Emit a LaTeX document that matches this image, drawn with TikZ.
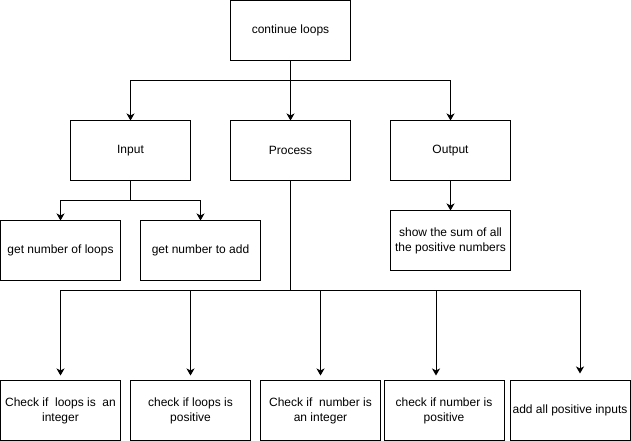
\documentclass[tikz,border=0pt]{standalone}
\usepackage{fontspec}
\setmainfont{Liberation Sans}
\usetikzlibrary{arrows.meta}
\begin{document}
\begin{tikzpicture}[x=1pt,y=-1pt,
  box/.style={draw,line width=1pt,minimum width=120pt,minimum height=60pt,
    inner sep=2pt,outer sep=0pt,align=center,anchor=north west,
    font=\fontsize{12}{15}\selectfont},
  link/.style={line width=1pt},
  arr/.style={line width=1pt,-{Stealth[length=7pt,width=8pt,inset=2pt]}}]
\useasboundingbox (0,0) rectangle (631,441);

% top level
\node[box] (top) at (230.5,0.5) {continue loops};

% second level
\node[box] (input)   at (70.5,120.5)  {Input};
\node[box] (process) at (230.5,120.5) {Process};
\node[box] (output)  at (390.5,120.5) {Output};

% input children
\node[box] (gl) at (0.5,220.5)   {get number of loops};
\node[box] (ga) at (140.5,220.5) {get number to add};

% output child
\node[box] (show) at (390.5,210.5) {show the sum of all\\the positive numbers};

% process children
\node[box] (b1) at (0.5,380.5)   {Check if\ \ loops is\ \ an\\integer};
\node[box] (b2) at (130.5,380.5) {check if loops is\\positive};
\node[box] (b3) at (260.5,380.5) {Check if\ \ number is\\an integer};
\node[box] (b4) at (384,380.5)   {check if number is\\positive};
\node[box] (b5) at (510,380.5)   {add all positive inputs};

% connectors from the top box
\draw[link] (top.south) -- ++(0,20) coordinate (tb);
\draw[arr] (tb) -| (input.north);
\draw[arr] (tb) -- (process.north);
\draw[arr] (tb) -| (output.north);

% connectors from input
\draw[link] (input.south) -- ++(0,20) coordinate (ib);
\draw[arr] (ib) -| (gl.north);
\draw[arr] (ib) -| (ga.north);

% connector from output
\draw[arr] (output.south) -- (show.north);

% connectors from process
\draw[link] (process.south) -- ++(0,110) coordinate (pb);
\draw[arr,shorten >=5pt] (pb) -| (b1.north);
\draw[arr,shorten >=5pt] (pb) -| (b2.north);
\draw[arr,shorten >=5pt] (pb) -| (b3.north);
\draw[arr,shorten >=5pt] (pb) -| ([xshift=-8pt]b4.north);
\draw[arr,shorten >=7pt] (pb) -| ([xshift=10pt]b5.north);
\end{tikzpicture}
\end{document}
